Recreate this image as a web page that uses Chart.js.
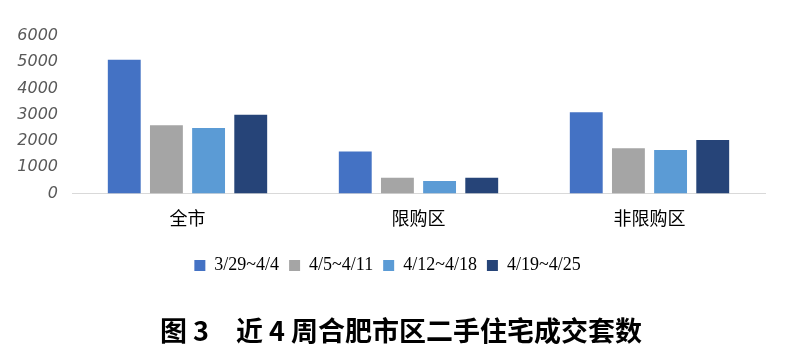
<!DOCTYPE html>
<html><head><meta charset="utf-8">
<script src="https://cdn.jsdelivr.net/npm/chart.js@4"></script>
<style>html,body{margin:0;padding:0;background:#fff}#wrap{width:786px;height:360px}</style>
</head><body><div id="wrap"><canvas id="c" width="786" height="360"></canvas></div>
<script>
const categories = ['全市', '限购区', '非限购区'];
const seriesNames = ['3/29~4/4', '4/5~4/11', '4/12~4/18', '4/19~4/25'];
const s1 = [5100, 1600, 3100];
const s2 = [2600, 600, 1730];
const s3 = [2500, 480, 1660];
const s4 = [3000, 600, 2040];
const colors = ['#4472C4', '#A5A5A5', '#5B9BD5', '#264478'];
const titleText = '\u2003图 3　近 4 周合肥市区二手住宅成交套数';

const data = {
  labels: categories,
  datasets: [s1, s2, s3, s4].map((v, i) => ({
    label: seriesNames[i], data: v, backgroundColor: colors[i],
    categoryPercentage: 0.73, barPercentage: 0.78
  }))
};
new Chart(document.getElementById('c'), {
  type: 'bar',
  data,
  options: {
    responsive: false, animation: false,
    layout: { padding: { top: 36, left: 10, right: 21, bottom: 13 } },
    plugins: {
      tooltip: { enabled: false },
      legend: {
        position: 'bottom',
        labels: { boxWidth: 11, boxHeight: 11, padding: 10, color: '#000',
          font: { family: 'Liberation Serif', size: 18 } }
      },
      title: {
        display: true, position: 'bottom', text: titleText, color: '#000',
        font: { family: 'Noto Sans CJK SC', size: 27, weight: 'bold' },
        padding: { top: 30, bottom: 0 }
      }
    },
    scales: {
      x: {
        afterFit: (s) => { s.height = 53; },
        grid: { display: false },
        border: { display: true, color: '#d9d9d9', width: 1 },
        ticks: { color: '#000', padding: 6, font: { family: 'Noto Sans CJK SC', size: 18 } }
      },
      y: {
        min: 0, max: 6000,
        afterFit: (s) => { s.width = 62; },
        grid: { display: false },
        border: { display: false },
        ticks: { stepSize: 1000, color: '#595959', padding: 6,
          callback: (v) => String(v),
          font: { family: 'DejaVu Sans', size: 16, style: 'italic' } }
      }
    }
  }
});
</script></body></html>
